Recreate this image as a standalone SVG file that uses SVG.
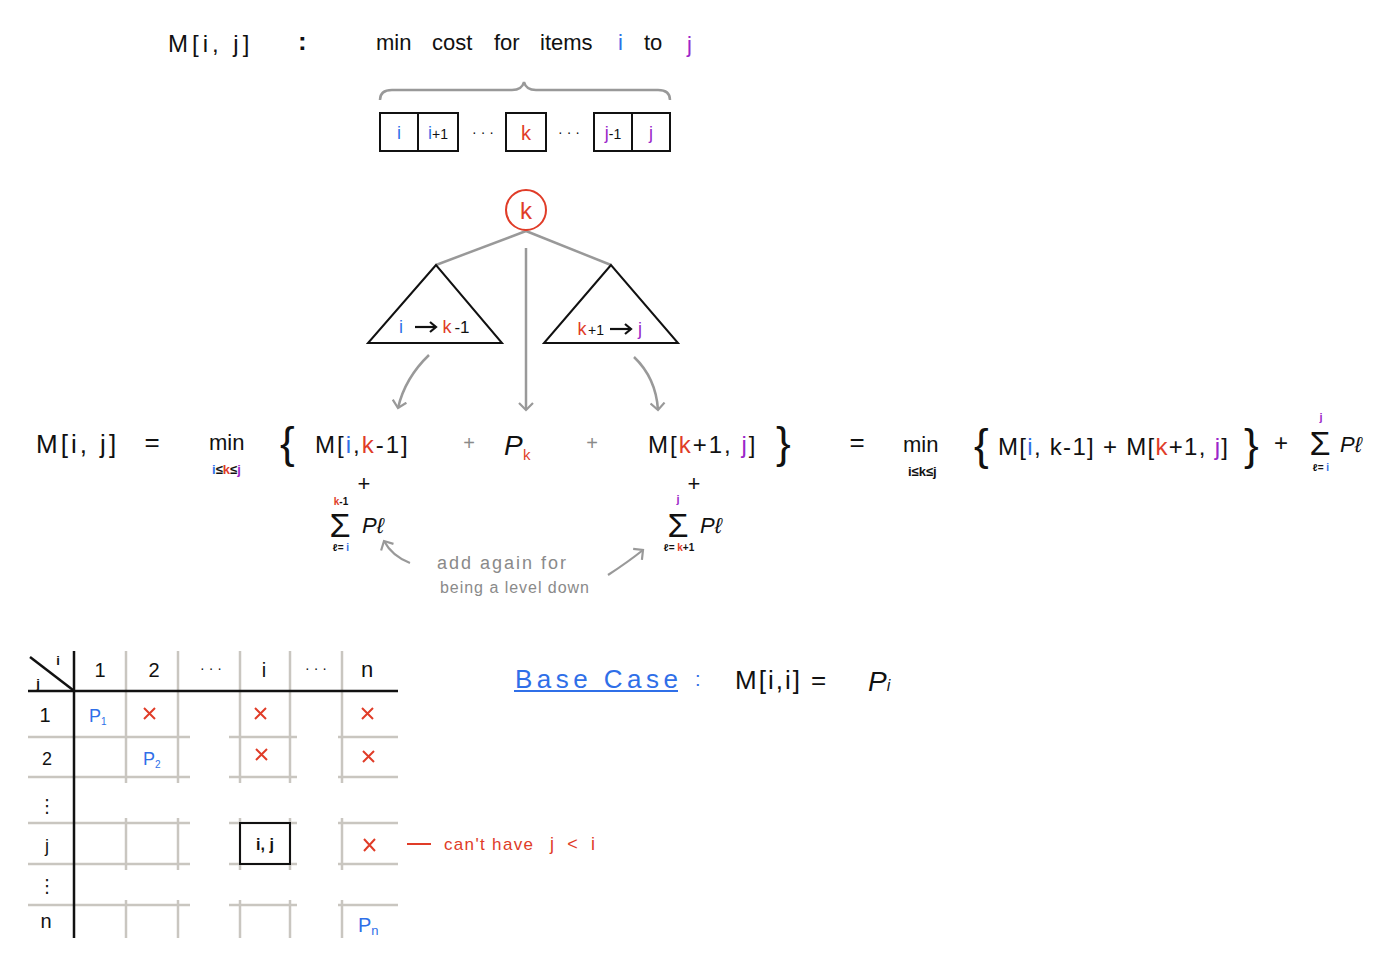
<svg xmlns="http://www.w3.org/2000/svg" width="1388" height="968" viewBox="0 0 1388 968">
<style>
text{font-family:"Liberation Sans","DejaVu Sans",sans-serif;fill:#111}
.b{fill:#2f6fe8}.r{fill:#e03c28}.p{fill:#9b27c9}.g{fill:#8a8a8a}
.box{fill:none;stroke:#111;stroke-width:2}
.tree{stroke:#999;stroke-width:2.5;fill:none}
.grid{stroke:#c9c6c0;stroke-width:2.5;fill:none}
.blk{stroke:#111;stroke-width:2.5;fill:none}
.gar{stroke:#999;stroke-width:2.2;fill:none}
.xr{stroke:#e03c28;stroke-width:2;fill:none}
</style>
<defs>
<marker id="ah" markerWidth="16" markerHeight="16" refX="8" refY="8" orient="auto" markerUnits="userSpaceOnUse">
<path d="M1,1 L8,8 L1,15" fill="none" stroke="#999" stroke-width="2.2"/>
</marker>
<marker id="bh" markerWidth="12" markerHeight="12" refX="7" refY="6" orient="auto" markerUnits="userSpaceOnUse">
<path d="M1,1 L7,6 L1,11" fill="none" stroke="#111" stroke-width="2.2"/>
</marker>
</defs>

<g id="title">
<text x="168" y="52" font-size="24" letter-spacing="4">M[i, j]</text>
<text x="298" y="50" font-size="26" font-weight="bold">:</text>
<text x="376" y="50" font-size="22">min</text>
<text x="432" y="50" font-size="22">cost</text>
<text x="494" y="50" font-size="22">for</text>
<text x="540" y="50" font-size="22">items</text>
<text x="618" y="50" font-size="22" class="b">i</text>
<text x="644" y="50" font-size="22">to</text>
<text x="687" y="52" font-size="22" class="p">j</text>
</g>

<g id="brace">
<path class="tree" d="M380,100 Q380,90 392,90 L512,90 Q522,90 524,82 Q526,90 536,90 L658,90 Q670,90 670,100"/>
</g>

<g id="array">
<rect class="box" x="380" y="113" width="38" height="38"/>
<rect class="box" x="418" y="113" width="40" height="38"/>
<rect class="box" x="506" y="113" width="40" height="38"/>
<rect class="box" x="594" y="113" width="38" height="38"/>
<rect class="box" x="632" y="113" width="38" height="38"/>
<text x="399" y="139" font-size="18" text-anchor="middle" class="b">i</text>
<text x="438" y="139" font-size="18" text-anchor="middle"><tspan class="b">i</tspan><tspan font-size="14">+1</tspan></text>
<text x="483" y="137" font-size="14" text-anchor="middle">· · ·</text>
<text x="526" y="140" font-size="20" text-anchor="middle" class="r">k</text>
<text x="569" y="137" font-size="14" text-anchor="middle">· · ·</text>
<text x="613" y="139" font-size="18" text-anchor="middle"><tspan class="p">j</tspan><tspan font-size="14">-1</tspan></text>
<text x="651" y="139" font-size="18" text-anchor="middle" class="p">j</text>
</g>

<g id="connectors">
<line class="tree" x1="526" y1="231" x2="436" y2="265"/>
<line class="tree" x1="526" y1="231" x2="611" y2="265"/>
<line class="tree" x1="526" y1="248" x2="526" y2="410" marker-end="url(#ah)"/>
<path class="tree" d="M429,355 Q405,378 398,408" marker-end="url(#ah)"/>
<path class="tree" d="M634,357 Q656,378 658,410" marker-end="url(#ah)"/>
<path class="gar" d="M410,563 Q392,556 384,541" marker-end="url(#ah)"/>
<path class="gar" d="M608,575 Q628,562 643,550" marker-end="url(#ah)"/>
</g>

<g id="root-k">
<circle cx="526" cy="210" r="20" fill="none" stroke="#e03c28" stroke-width="2"/>
<text x="526" y="219" font-size="24" text-anchor="middle" class="r">k</text>
</g>

<g id="left-tree">
<polygon class="box" points="436,265 368,343 502,343"/>
<text x="401" y="333" font-size="18" text-anchor="middle" class="b">i</text>
<line x1="415" y1="327" x2="436" y2="327" stroke="#111" stroke-width="2.2" marker-end="url(#bh)"/>
<text x="447" y="333" font-size="18" text-anchor="middle" class="r">k</text>
<text x="462" y="333" font-size="17" text-anchor="middle">-1</text>
</g>

<g id="right-tree">
<polygon class="box" points="611,265 544,343 678,343"/>
<text x="582" y="335" font-size="18" text-anchor="middle" class="r">k</text>
<text x="596" y="335" font-size="14" text-anchor="middle">+1</text>
<line x1="610" y1="329" x2="631" y2="329" stroke="#111" stroke-width="2.2" marker-end="url(#bh)"/>
<text x="640" y="335" font-size="18" text-anchor="middle" class="p">j</text>
</g>

<g id="equation">
<text x="36" y="453" font-size="26" letter-spacing="3">M[i, j]</text>
<text x="152" y="451" font-size="26" text-anchor="middle">=</text>
<text x="209" y="450" font-size="22">min</text>
<text x="212" y="474" font-size="13" font-weight="bold"><tspan class="b">i</tspan>≤<tspan class="r">k</tspan>≤<tspan class="p">j</tspan></text>
<text x="280" y="458" font-size="44" font-weight="300">{</text>
<text x="315" y="453" font-size="24" letter-spacing="2">M[<tspan class="b">i</tspan>,<tspan class="r">k</tspan>-1]</text>
<text x="469" y="450" font-size="20" text-anchor="middle" class="g">+</text>
<text x="504" y="455" font-size="28" font-style="italic">P</text>
<text x="523" y="460" font-size="15" class="r">k</text>
<text x="592" y="450" font-size="20" text-anchor="middle" class="g">+</text>
<text x="648" y="453" font-size="24" letter-spacing="2">M[<tspan class="r">k</tspan>+1, <tspan class="p">j</tspan>]</text>
<text x="776" y="458" font-size="44" font-weight="300">}</text>
<text x="857" y="451" font-size="26" text-anchor="middle">=</text>
<text x="903" y="452" font-size="22">min</text>
<text x="908" y="476" font-size="13" font-weight="bold">i≤k≤j</text>
<text x="974" y="460" font-size="44" font-weight="300">{</text>
<text x="998" y="455" font-size="24" textLength="230" lengthAdjust="spacing">M[<tspan class="b">i</tspan>, k-1] + M[<tspan class="r">k</tspan>+1, <tspan class="p">j</tspan>]</text>
<text x="1244" y="460" font-size="44" font-weight="300">}</text>
<text x="1281" y="451" font-size="24" text-anchor="middle">+</text>
<text x="1321" y="421" font-size="11" font-weight="bold" text-anchor="middle" class="p">j</text>
<text x="1320" y="455" font-size="34" text-anchor="middle">Σ</text>
<text x="1321" y="471" font-size="10" font-weight="bold" text-anchor="middle">ℓ= <tspan class="b">i</tspan></text>
<text x="1340" y="452" font-size="22" font-style="italic">Pℓ</text>
</g>

<g id="sum-left">
<text x="364" y="491" font-size="22" text-anchor="middle">+</text>
<text x="341" y="505" font-size="10" font-weight="bold" text-anchor="middle"><tspan class="r">k</tspan>-1</text>
<text x="340" y="537" font-size="34" text-anchor="middle">Σ</text>
<text x="341" y="551" font-size="10" font-weight="bold" text-anchor="middle">ℓ= <tspan class="b">i</tspan></text>
<text x="362" y="533" font-size="22" font-style="italic">Pℓ</text>
</g>

<g id="sum-right">
<text x="694" y="491" font-size="22" text-anchor="middle">+</text>
<text x="678" y="503" font-size="11" font-weight="bold" text-anchor="middle" class="p">j</text>
<text x="678" y="537" font-size="34" text-anchor="middle">Σ</text>
<text x="679" y="551" font-size="10" font-weight="bold" text-anchor="middle">ℓ= <tspan class="r">k</tspan>+1</text>
<text x="700" y="533" font-size="22" font-style="italic">Pℓ</text>
</g>

<g id="note">
<text x="437" y="569" font-size="18" class="g" textLength="129" lengthAdjust="spacing">add again for</text>
<text x="440" y="593" font-size="16" class="g" textLength="149" lengthAdjust="spacing">being a level down</text>
</g>

<g id="table">
<line class="grid" x1="126" y1="651" x2="126" y2="783"/>
<line class="grid" x1="178" y1="651" x2="178" y2="783"/>
<line class="grid" x1="240" y1="651" x2="240" y2="783"/>
<line class="grid" x1="290" y1="651" x2="290" y2="783"/>
<line class="grid" x1="342" y1="651" x2="342" y2="783"/>
<line class="grid" x1="126" y1="818" x2="126" y2="870"/>
<line class="grid" x1="178" y1="818" x2="178" y2="870"/>
<line class="grid" x1="240" y1="818" x2="240" y2="870"/>
<line class="grid" x1="290" y1="818" x2="290" y2="870"/>
<line class="grid" x1="342" y1="818" x2="342" y2="870"/>
<line class="grid" x1="126" y1="900" x2="126" y2="938"/>
<line class="grid" x1="178" y1="900" x2="178" y2="938"/>
<line class="grid" x1="240" y1="900" x2="240" y2="938"/>
<line class="grid" x1="290" y1="900" x2="290" y2="938"/>
<line class="grid" x1="342" y1="900" x2="342" y2="938"/>
<path class="grid" d="M28,737 H190 M229,737 H297 M338,737 H398 M28,777 H190 M229,777 H297 M338,777 H398 M28,823 H190 M229,823 H297 M338,823 H398 M28,864 H190 M229,864 H297 M338,864 H398 M28,905 H190 M229,905 H297 M338,905 H398"/>
<line class="blk" x1="74" y1="651" x2="74" y2="938"/>
<line class="blk" x1="28" y1="691" x2="398" y2="691"/>
<line class="blk" x1="30" y1="657" x2="73" y2="690"/>
<text x="58" y="665" font-size="13" font-weight="bold" text-anchor="middle">i</text>
<text x="38" y="688" font-size="13" font-weight="bold" text-anchor="middle">j</text>
<text x="100" y="677" font-size="20" text-anchor="middle">1</text>
<text x="154" y="677" font-size="20" text-anchor="middle">2</text>
<text x="211" y="673" font-size="14" text-anchor="middle">· · ·</text>
<text x="264" y="677" font-size="20" text-anchor="middle">i</text>
<text x="316" y="673" font-size="14" text-anchor="middle">· · ·</text>
<text x="367" y="677" font-size="22" text-anchor="middle">n</text>
<text x="45" y="722" font-size="20" text-anchor="middle">1</text>
<text x="47" y="765" font-size="18" text-anchor="middle">2</text>
<text x="47" y="812" font-size="18" text-anchor="middle">⋮</text>
<text x="47" y="852" font-size="18" text-anchor="middle">j</text>
<text x="47" y="892" font-size="18" text-anchor="middle">⋮</text>
<text x="46" y="928" font-size="20" text-anchor="middle">n</text>
<text x="89" y="722" font-size="18" class="b">P<tspan font-size="10" dy="3">1</tspan></text>
<text x="143" y="765" font-size="18" class="b">P<tspan font-size="10" dy="3">2</tspan></text>
<text x="358" y="932" font-size="20" class="b">P<tspan font-size="13" dy="3">n</tspan></text>
<path class="xr" d="M144,708 L155,719 M155,708 L144,719 M255,708 L266,719 M266,708 L255,719 M362,708 L373,719 M373,708 L362,719 M256,749 L267,760 M267,749 L256,760 M363,751 L374,762 M374,751 L363,762 M364,839 L375,851 M375,839 L364,851"/>
</g>

<g id="cell-ij">
<rect class="box" x="240" y="823" width="50" height="41" stroke-width="2.5"/>
<text x="265" y="850" font-size="16" font-weight="bold" text-anchor="middle">i, j</text>
</g>

<g id="cant-note">
<line x1="407" y1="844" x2="431" y2="844" stroke="#e03c28" stroke-width="2"/>
<text x="444" y="850" font-size="17" class="r" textLength="89" lengthAdjust="spacing">can't have</text>
<text x="550" y="850" font-size="18" class="r" textLength="45" lengthAdjust="spacing">j &lt; i</text>
</g>

<g id="base-case">
<text x="515" y="688" font-size="26" class="b" textLength="163" lengthAdjust="spacing">Base Case</text>
<line x1="514" y1="691" x2="678" y2="691" stroke="#2f6fe8" stroke-width="2"/>
<text x="695" y="686" font-size="20" class="b">:</text>
<text x="735" y="689" font-size="26" letter-spacing="2">M[i,i] =</text>
<text x="868" y="691" font-size="28" font-style="italic">P<tspan font-size="16" font-style="italic">i</tspan></text>
</g>
</svg>
